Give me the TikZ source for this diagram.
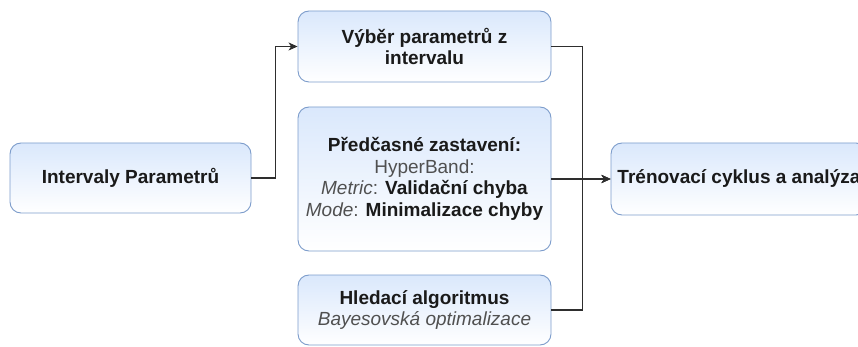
\documentclass[tikz,border=0pt]{standalone}
\usepackage{fontspec}
\setmainfont{Liberation Sans}
\usetikzlibrary{arrows.meta}
\definecolor{boxline}{HTML}{7C9CCB}
\definecolor{boxtop}{HTML}{DAE8FC}
\definecolor{txt}{HTML}{1A1A1A}
\definecolor{soft}{HTML}{505050}
\definecolor{wire}{HTML}{2E2E2E}
\begin{document}
\begin{tikzpicture}[x=1pt,y=-1pt,
  box/.style={draw=boxline, line width=0.9pt, rounded corners=11pt,
    top color=boxtop, bottom color=white, align=center, inner sep=0pt,
    font=\fontsize{19}{21.7}\selectfont, text=txt},
  wire/.style={draw=wire, line width=1.1pt},
  arr/.style={wire, -{Stealth[length=9pt,width=8pt,inset=2.5pt]}}]
\useasboundingbox (0,0) rectangle (858,347);
\clip (0,0) rectangle (858,347);

% parameter source
\node[box, minimum width=241, minimum height=70] (src) at (130.5,178)
  {\textbf{Intervaly Parametrů}};

% three configuration blocks
\node[box, minimum width=253, minimum height=71] (pick) at (424.5,46.5)
  {\textbf{Výběr parametrů z}\\\textbf{intervalu}};
\node[box, minimum width=253, minimum height=144] (stop) at (424.5,179)
  {\textbf{Předčasné zastavení:}\\
   {\color{soft}HyperBand:}\\
   {\color{soft}\textit{Metric}:} \textbf{Validační chyba}\\
   {\color{soft}\textit{Mode}:} \textbf{Minimalizace chyby}};
\node[box, minimum width=253, minimum height=70] (search) at (424.5,310)
  {\textbf{Hledací algoritmus}\\{\color{soft}\textit{Bayesovská optimalizace}}};

% training loop
\node[box, minimum width=256, minimum height=72] (train) at (739,179)
  {\textbf{Trénovací cyklus a analýza}};

% connectors
\draw[arr] (src.east) -- ++(24,0) |- (pick.west);
\draw[arr] (pick.east) -- ++(31,0) |- (train.west);
\draw[arr] (search.east) -- ++(31,0) |- (train.west);
\draw[arr] (stop.east) -- (train.west);
\end{tikzpicture}
\end{document}
